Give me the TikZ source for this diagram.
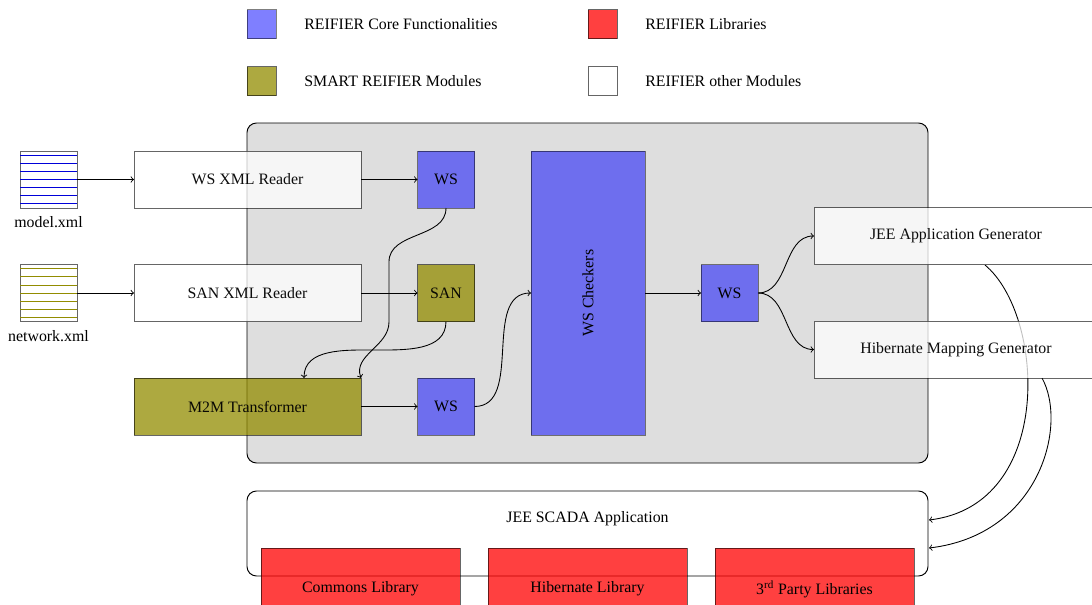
\documentclass[tikz,border=0pt]{standalone}
\usepackage{fontspec}
\setmainfont{Liberation Serif}
\pgfdeclarelayer{panel}
\pgfdeclarelayer{edges}
\pgfsetlayers{panel,edges,main}
\definecolor{oliveb}{RGB}{146,140,0}
\def\pxs{0.63pt}
\tikzset{
  x=0.63pt,y=-0.63pt,
  box/.style={draw=black,draw opacity=.6,fill=#1,fill opacity=.75,text opacity=.95,inner sep=0pt,outer sep=0pt,line width=.6pt},
  wbox/.style={box=white,minimum width=227*\pxs,minimum height=57*\pxs},
  jbox/.style={box=white,minimum width=284*\pxs,minimum height=57*\pxs},
  obox/.style={box=oliveb,minimum width=227*\pxs,minimum height=57*\pxs},
  tile/.style={draw=black,draw opacity=.5,fill=blue,fill opacity=.5,text opacity=1,inner sep=0pt,outer sep=0pt,line width=.6pt,minimum width=57*\pxs,minimum height=57*\pxs},
  santile/.style={box=oliveb,minimum width=57*\pxs,minimum height=57*\pxs},
  libbox/.style={box=red,minimum width=199*\pxs,minimum height=57*\pxs},
  legendtile/.style={minimum width=29*\pxs,minimum height=29*\pxs},
  legendtext/.style={anchor=west,inner sep=0pt},
  plain/.style={inner sep=0pt},
  filebox/.style={draw=black,draw opacity=.6,inner sep=0pt,outer sep=0pt,line width=.6pt,minimum width=57*\pxs,minimum height=57*\pxs},
  panelbox/.style={draw=black,rounded corners=6pt,line width=.6pt,inner sep=0pt,outer sep=0pt,minimum width=681*\pxs},
  link/.style={->,line width=.55pt},
}
\begin{document}
\begin{tikzpicture}
\useasboundingbox (0,0) rectangle (1092,605);
% legend
\node[tile,legendtile] (l1) at (261.5,24) {};
\node[box=red,legendtile] (l2) at (602.5,24) {};
\node[box=oliveb,legendtile] (l3) at (261.5,81) {};
\node[box=white,legendtile] (l4) at (602.5,81) {};
\node[legendtext] (t1) at (304,24) {REIFIER Core Functionalities};
\node[legendtext] (t2) at (645,24) {REIFIER Libraries};
\node[legendtext] (t3) at (304,81) {SMART REIFIER Modules};
\node[legendtext] (t4) at (645,81) {REIFIER other Modules};
% panels
\begin{pgfonlayer}{panel}
\node[panelbox,fill=black!13,minimum height=340*\pxs] (core) at (587.5,293) {};
\node[panelbox,fill=white,minimum height=85*\pxs] (scada) at (587.5,533.5) {};
\end{pgfonlayer}
\node[plain] (scadat) at (587.5,519) {JEE SCADA Application};
% files
\node[filebox] (model) at (48.5,179.5) {};
\foreach \yy in {155.3,163.4,171.5,179.5,187.6,195.6,203.7}
  \draw[blue!85!black,line width=.55pt] (20,\yy) -- (77,\yy);
\node[filebox] (network) at (48.5,293) {};
\foreach \yy in {268.8,276.9,285,293,301.1,309.1,317.2}
  \draw[oliveb,line width=.6pt] (20,\yy) -- (77,\yy);
\node[plain] (modelt) at (48.5,222) {model.xml};
\node[plain] (networkt) at (48.5,336) {network.xml};
% modules
\node[wbox] (wsr) at (247.5,179.5) {WS XML Reader};
\node[wbox] (sanr) at (247.5,293) {SAN XML Reader};
\node[obox] (m2m) at (247.5,406.5) {M2M Transformer};
\node[tile] (ws1) at (446,179.5) {WS};
\node[santile] (san) at (446,293) {SAN};
\node[tile] (ws2) at (446,406.5) {WS};
\node[tile,minimum width=114*\pxs,minimum height=284*\pxs] (check) at (588,293) {\rotatebox{90}{WS Checkers}};
\node[tile] (ws3) at (729.5,293) {WS};
\node[jbox] (jee) at (956,236) {JEE Application Generator};
\node[jbox] (hib) at (956,349.5) {Hibernate Mapping Generator};
% libraries
\node[libbox] (lib1) at (360.5,576.5) {};
\node[libbox] (lib2) at (587.5,576.5) {};
\node[libbox] (lib3) at (814.5,576.5) {};
\node[plain] (lib1t) at (360.5,589) {Commons Library};
\node[plain] (lib2t) at (587.5,589) {Hibernate Library};
\node[plain] (lib3t) at (814.5,589) {3\textsuperscript{rd} Party Libraries};
% connector points
\coordinate (a1) at (389,262);
\coordinate (a2) at (389,322);
\coordinate (a3) at (361,378);
\coordinate (b1) at (375,350);
\coordinate (b2) at (304,378);
\coordinate (c1) at (985,265);
\coordinate (c2) at (929,520);
\coordinate (d1) at (1042,378);
\coordinate (d2) at (929,548);
\coordinate (c1a) at (1045,315);
\coordinate (c1b) at (1055,505);
\coordinate (d1a) at (1068,425);
\coordinate (d1b) at (1040,535);
\begin{pgfonlayer}{edges}
\draw[link] (model.east) -- (wsr.west);
\draw[link] (network.east) -- (sanr.west);
\draw[link] (wsr.east) -- (ws1.west);
\draw[link] (sanr.east) -- (san.west);
\draw[link] (m2m.east) -- (ws2.west);
\draw[link] (ws1.south) to[out=-90,in=90] (a1) -- (a2) to[out=-90,in=110] (a3);
\draw[link] (san.south) to[out=-90,in=0] (b1) to[out=180,in=90] (b2);
\draw[link] (ws2.east) to[out=0,in=180] (check.west);
\draw[link] (check.east) -- (ws3.west);
\draw[link] (ws3.east) to[out=0,in=180] (jee.west);
\draw[link] (ws3.east) to[out=0,in=180] (hib.west);
\draw[link] (c1) .. controls (c1a) and (c1b) .. (c2);
\draw[link] (d1) .. controls (d1a) and (d1b) .. (d2);
\end{pgfonlayer}
\end{tikzpicture}
\end{document}
